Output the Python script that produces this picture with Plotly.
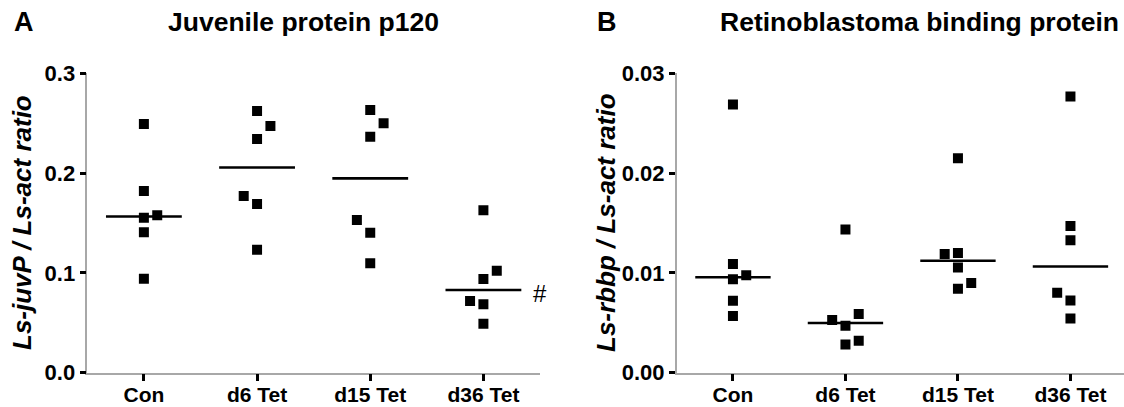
import numpy as np
import plotly.graph_objects as go

categories = ["Con", "d6 Tet", "d15 Tet", "d36 Tet"]

# Panel A: Ls-juvP / Ls-act ratio
juvp_con = [0.2492, 0.1821, 0.1553, 0.1577, 0.1407, 0.0942]
juvp_d6 = [0.2622, 0.2472, 0.2342, 0.1771, 0.1690, 0.1233]
juvp_d15 = [0.2632, 0.2499, 0.2365, 0.1530, 0.1403, 0.1096]
juvp_d36 = [0.1627, 0.1022, 0.0939, 0.0718, 0.0685, 0.0491]

# Panel B: Ls-rbbp / Ls-act ratio
rbbp_con = [0.02687, 0.01090, 0.00937, 0.00977, 0.00720, 0.00567]
rbbp_d6 = [0.01434, 0.00527, 0.00470, 0.00587, 0.00283, 0.00320]
rbbp_d15 = [0.02150, 0.01190, 0.01200, 0.01053, 0.00840, 0.00900]
rbbp_d36 = [0.02767, 0.01470, 0.01327, 0.00800, 0.00723, 0.00543]

y_ticks_a = [0.0, 0.1, 0.2, 0.3]
y_ticks_b = [0.00, 0.01, 0.02, 0.03]

# horizontal scatter (dodge) direction of each point, layout only
juvp_dodge = [[0, 0, 0, 1, 0, 0], [0, 1, 0, -1, 0, 0], [0, 1, 0, -1, 0, 0], [0, 1, 0, -1, 0, 0]]
rbbp_dodge = [[0, 0, 0, 1, 0, 0], [0, -1, 0, 1, 0, 1], [0, -1, 0, 0, 0, 1], [0, 0, 0, -1, 0, 0]]
DODGE = 0.118
HALF = 0.335

FONT = "Liberation Sans, Arial, sans-serif"

fig = go.Figure()

def add_panel(groups, dodges, xa, ya):
    for i, (vals, dd) in enumerate(zip(groups, dodges)):
        xs = [i + d * DODGE for d in dd]
        fig.add_trace(go.Scatter(
            x=xs, y=vals, mode="markers", xaxis=xa, yaxis=ya,
            marker=dict(symbol="square", size=10, color="black", line=dict(width=0)),
            showlegend=False, hoverinfo="y"))
        med = float(np.median(vals))
        fig.add_trace(go.Scatter(
            x=[i - HALF, i + HALF], y=[med, med], mode="lines", xaxis=xa, yaxis=ya,
            line=dict(color="black", width=2.6), showlegend=False, hoverinfo="skip"))

add_panel([juvp_con, juvp_d6, juvp_d15, juvp_d36], juvp_dodge, "x", "y")
add_panel([rbbp_con, rbbp_d6, rbbp_d15, rbbp_d36], rbbp_dodge, "x2", "y2")

W, H = 1124, 407
ydom = [(H - 372.7) / H, (H - 73.3) / H]

xcommon = dict(
    tickmode="array", tickvals=[0, 1, 2, 3], ticktext=categories,
    showline=True, linecolor="#a8a8a8", linewidth=1.5,
    ticks="outside", ticklen=7, tickwidth=3, tickcolor="black",
    ticklabelstandoff=-5,
    showgrid=False, zeroline=False, automargin=False,
    tickfont=dict(family=FONT, size=21, color="black", weight="bold"),
)
ycommon = dict(
    showline=True, linecolor="#a8a8a8", linewidth=1.5,
    ticks="outside", ticklen=6, tickwidth=3, tickcolor="black",
    showgrid=False, zeroline=False, automargin=False,
    tickfont=dict(family=FONT, size=22, color="black", weight="bold"),
    domain=ydom,
)

fig.update_layout(
    template="none",
    width=W, height=H,
    margin=dict(l=0, r=0, t=0, b=0, pad=0, autoexpand=False),
    paper_bgcolor="white", plot_bgcolor="white",
    xaxis=dict(domain=[87.3 / W, 540 / W], range=[-0.5, 3.5], anchor="y", **xcommon),
    yaxis=dict(range=[0, 0.3], tickvals=y_ticks_a, ticktext=["0.0", "0.1", "0.2", "0.3"],
               anchor="x", **ycommon),
    xaxis2=dict(domain=[676.7 / W, 1.0], range=[-0.5, 3.476], anchor="y2", **xcommon),
    yaxis2=dict(range=[0, 0.03], tickvals=y_ticks_b, ticktext=["0.00", "0.01", "0.02", "0.03"],
                anchor="x2", **ycommon),
)

def ann(text, x, y, size, bold=True, italic=False, angle=0, xanchor="center"):
    fig.add_annotation(
        text=text, x=x, y=y, xref="paper", yref="paper", showarrow=False,
        xanchor=xanchor, yanchor="middle", textangle=angle,
        font=dict(family=FONT, size=size, color="black",
                  weight="bold" if bold else "normal",
                  style="italic" if italic else "normal"))

ann("A", 24 / W, (H - 22) / H, 27)
ann("Juvenile protein p120", 303 / W, (H - 22) / H, 26.5)
ann("B", 607 / W, (H - 22) / H, 27)
ann("Retinoblastoma binding protein", 919 / W, (H - 22) / H, 26.5)
ann("Ls-juvP / Ls-act ratio", 22 / W, (H - 223) / H, 26, italic=True, angle=-90)
ann("Ls-rbbp / Ls-act ratio", 606 / W, (H - 223) / H, 26, italic=True, angle=-90)

fig.add_annotation(text="#", x=3.5, y=0.079, xref="x", yref="y", showarrow=False,
                   xanchor="center", yanchor="middle",
                   font=dict(family=FONT, size=24, color="black"))

fig.write_html("out.html")
